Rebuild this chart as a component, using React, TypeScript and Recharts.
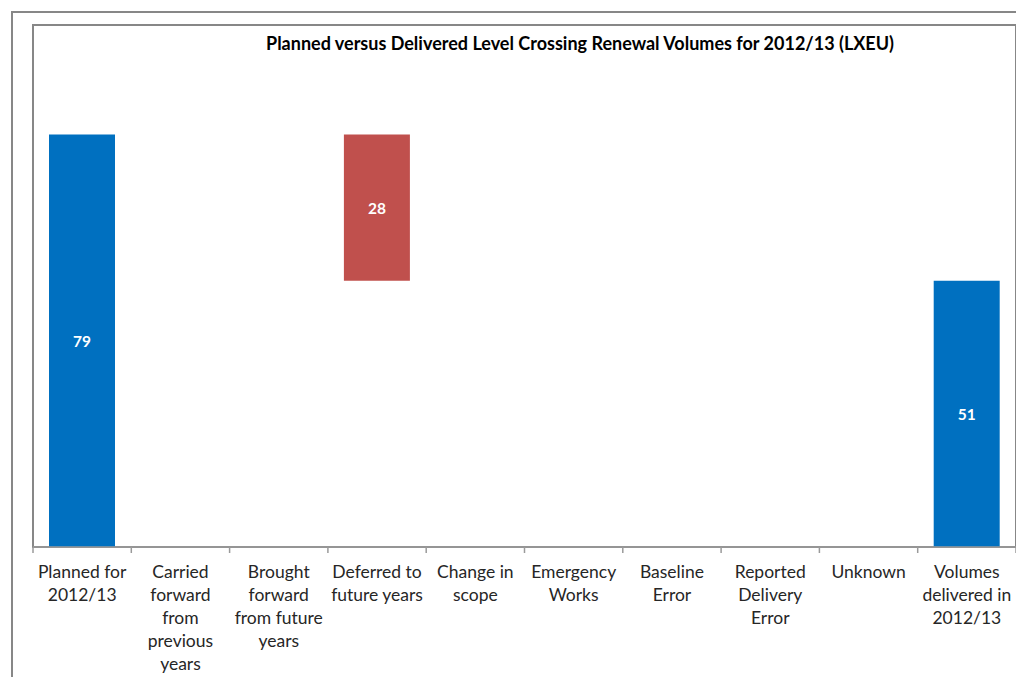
import React from 'react';
import { BarChart, Bar, XAxis, YAxis, LabelList, Cell, usePlotArea } from 'recharts';

const categories = [
  'Planned for\n2012/13',
  'Carried\nforward\nfrom\nprevious\nyears',
  'Brought\nforward\nfrom future\nyears',
  'Deferred to\nfuture years',
  'Change in\nscope',
  'Emergency\nWorks',
  'Baseline\nError',
  'Reported\nDelivery\nError',
  'Unknown',
  'Volumes\ndelivered in\n2012/13',
];
const baseValues = [0, 0, 0, 51, 0, 0, 0, 0, 0, 0];
const barValues = [79, 0, 0, 28, 0, 0, 0, 0, 0, 51];
const barColors = ['#0070C0', '#0070C0', '#0070C0', '#C0504D', '#0070C0', '#0070C0', '#0070C0', '#0070C0', '#0070C0', '#0070C0'];

const data = categories.map((name, i) => ({ name, base: baseValues[i], value: barValues[i] }));

const font = 'Lato, "Open Sans", sans-serif';
const frameColor = '#878787';
const axisColor = '#9a9a9a';

function CategoryTick(props: any) {
  const { x, y, payload, index, visibleTicksCount } = props;
  const half = payload.offset || 0;
  const lines = String(payload.value).split('\n');
  return (
    <g>
      <line x1={x - half} x2={x - half} y1={y} y2={y + 6} stroke={axisColor} strokeWidth={1.5} />
      {index === visibleTicksCount - 1 && (
        <line x1={x + half} x2={x + half} y1={y} y2={y + 6} stroke={axisColor} strokeWidth={1.5} />
      )}
      <text x={x} y={y + 31} textAnchor="middle" fill="#262626" fontSize={17.5} fontFamily={font}>
        {lines.map((l, i) => (
          <tspan key={i} x={x} dy={i === 0 ? 0 : 23}>{l}</tspan>
        ))}
      </text>
    </g>
  );
}

function ValueLabel(props: any) {
  const { x, y, width, height, value } = props;
  if (!value) return null;
  return (
    <text x={x + width / 2} y={y + height / 2} dy={6} textAnchor="middle" fill="#fff" fontSize={15.5} fontWeight="bold" fontFamily={font}>
      {value}
    </text>
  );
}

function PlotFrame() {
  const p = usePlotArea();
  if (!p) return null;
  return <rect x={p.x} y={p.y} width={p.width} height={p.height} fill="none" stroke={frameColor} strokeWidth={2} />;
}

export default function App() {
  return (
    <div style={{ position: 'relative', width: 1016, height: 669, background: '#fff', overflow: 'hidden' }}>
      <div style={{ position: 'absolute', left: 3, top: 3, right: -20, bottom: -20, borderLeft: `2px solid ${frameColor}`, borderTop: `2px solid ${frameColor}` }} />
      <div style={{ position: 'absolute', left: 572, top: 24, transform: 'translateX(-50%)', whiteSpace: 'nowrap', fontFamily: font, fontWeight: 'bold', fontSize: 18, color: '#000' }}>
        Planned versus Delivered Level Crossing Renewal Volumes for 2012/13 (LXEU)
      </div>
      <BarChart
        width={1016}
        height={669}
        data={data}
        margin={{ top: 17, right: 8, left: 25, bottom: 30 }}
        barSize={66}
        style={{ position: 'absolute', left: 0, top: 0 }}
      >
        <PlotFrame />
        <XAxis
          dataKey="name"
          height={100}
          axisLine={{ stroke: axisColor, strokeWidth: 1.5 }}
          tickLine={false}
          tickSize={0}
          tickMargin={0}
          interval={0}
          tick={<CategoryTick />}
        />
        <YAxis hide domain={[0, 100]} />
        <Bar dataKey="base" stackId="w" fill="transparent" isAnimationActive={false} />
        <Bar dataKey="value" stackId="w" isAnimationActive={false}>
          {data.map((d, i) => (
            <Cell key={d.name} fill={barColors[i]} />
          ))}
          <LabelList dataKey="value" content={<ValueLabel />} />
        </Bar>
      </BarChart>
    </div>
  );
}
